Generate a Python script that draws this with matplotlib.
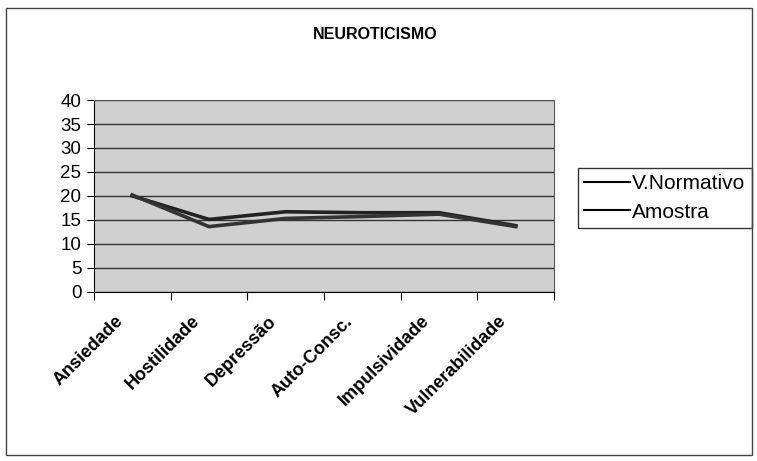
import matplotlib.pyplot as plt
import matplotlib.transforms as mtransforms
from matplotlib.patches import Rectangle

plt.rcParams['font.family'] = ['Liberation Sans', 'DejaVu Sans']

categorias = ['Ansiedade', 'Hostilidade', 'Depressão', 'Auto-Consc.',
              'Impulsividade', 'Vulnerabilidade']
v_normativo = [20.0, 15.1, 16.7, 16.5, 16.5, 13.8]
amostra = [20.2, 13.6, 15.3, 15.7, 16.2, 13.6]
y_ticks = [0, 5, 10, 15, 20, 25, 30, 35, 40]

fig = plt.figure(figsize=(7.57, 4.61), dpi=100)
ax = fig.add_axes([0.124, 0.367, 0.608, 0.416])
ax.set_facecolor('#d0d0d0')

x = list(range(len(categorias)))
ax.plot(x, v_normativo, color='#222222', lw=2.6, label='V.Normativo',
        solid_joinstyle='round')
ax.plot(x, amostra, color='#333333', lw=2.6, label='Amostra',
        solid_joinstyle='round')

ax.set_xlim(-0.5, len(categorias) - 0.5)
ax.set_ylim(0, 40)
ax.set_yticks(y_ticks)
ax.set_yticklabels([str(v) for v in y_ticks], fontsize=13.5)
ax.set_xticks([i - 0.5 for i in range(len(categorias) + 1)], minor=False)
ax.set_xticklabels([])
ax.set_xticks(x, minor=True)
ax.set_xticklabels(categorias, minor=True, rotation=45, ha='right',
                   rotation_mode='anchor', fontsize=13, fontweight='bold')
ax.tick_params(axis='x', which='minor', length=0, pad=12)
ax.tick_params(axis='x', which='major', length=6, direction='out')
ax.tick_params(axis='y', length=5, direction='out', pad=4)

# empurrar os rótulos um pouco para a esquerda
offset = mtransforms.ScaledTranslation(-18 / 100, -4 / 100, fig.dpi_scale_trans)
for lbl in ax.get_xticklabels(minor=True):
    lbl.set_transform(lbl.get_transform() + offset)

ax.grid(axis='y', color='#333333', lw=1)
ax.set_axisbelow(True)
for s in ax.spines.values():
    s.set_color('#555555')
ax.spines['left'].set_color('black')
ax.spines['bottom'].set_color('black')

fig.text(0.496, 0.925, 'NEUROTICISMO', ha='center', va='center',
         fontsize=11.5, fontweight='bold')

leg = ax.legend(loc='upper left', bbox_to_anchor=(1.052, 0.646), fontsize=15,
                frameon=True, fancybox=False, edgecolor='black',
                handlelength=2.2, handletextpad=0.1, borderpad=0.3,
                labelspacing=0.45, borderaxespad=0)
leg.get_frame().set_linewidth(1)
for h in leg.legend_handles:
    h.set_linewidth(1.5)
    h.set_color('black')

fig.patches.append(Rectangle((0.008, 0.012), 0.985, 0.97, transform=fig.transFigure,
                             fill=False, edgecolor='#444444', lw=1))

plt.savefig('out.png', dpi=100)
